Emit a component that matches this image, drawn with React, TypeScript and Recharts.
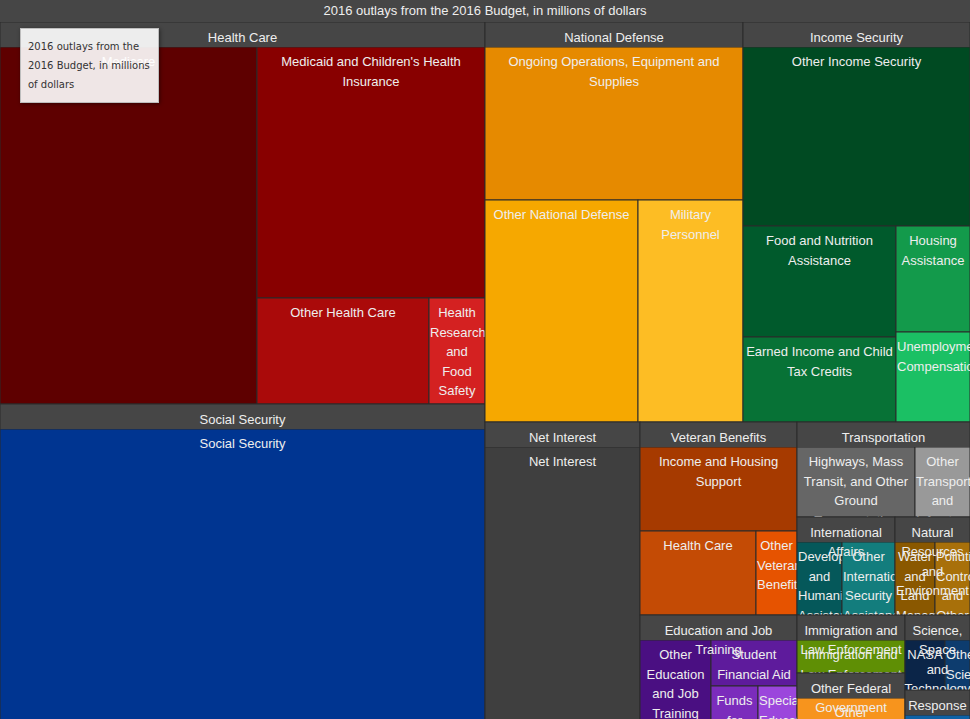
import React from 'react';
import { Treemap } from 'recharts';

const FONT = "'Liberation Sans', Arial, sans-serif";
const HEADER = 25;

const chartTitle = '2016 outlays from the 2016 Budget, in millions of dollars';

const groupNames = [
  'Health Care',
  'Social Security',
  'National Defense',
  'Income Security',
  'Net Interest',
  'Veteran Benefits',
  'Education and Job Training',
  'Transportation',
  'International Affairs',
  'Natural Resources and Environment',
  'Immigration and Law Enforcement',
  'Other Federal Government',
  'Science, Space and Technology',
  'Response',
];

// values in millions of dollars
const healthCareNames = ['Medicare', "Medicaid and Children's Health Insurance", 'Other Health Care', 'Health Research and Food Safety'];
const healthCareValues = [568400, 354500, 113000, 36800];

const socialSecurityNames = ['Social Security'];
const socialSecurityValues = [926700];

const defenseNames = ['Ongoing Operations, Equipment and Supplies', 'Other National Defense', 'Military Personnel'];
const defenseValues = [243800, 209700, 144000];

const incomeNames = ['Other Income Security', 'Food and Nutrition Assistance', 'Earned Income and Child Tax Credits', 'Housing Assistance', 'Unemployment Compensation'];
const incomeValues = [250950, 104880, 80320, 48440, 41130];

const interestNames = ['Net Interest'];
const interestValues = [280000];

const veteranNames = ['Income and Housing Support', 'Health Care', 'Other Veterans Benefits'];
const veteranValues = [87720, 64810, 22910];

const educationNames = ['Other Education and Job Training', 'Student Financial Aid', 'Funds for Disadvantaged Students', 'Special Education'];
const educationValues = [48920, 29000, 16540, 13710];

const transportNames = ['Highways, Mass Transit, and Other Ground Transportation', 'Other Transportation and Infrastructure'];
const transportValues = [64900, 30260];

const internationalNames = ['Development and Humanitarian Assistance', 'Other International Security Assistance'];
const internationalValues = [25540, 30070];

const resourcesNames = ['Water and Land Management', 'Pollution Control and Other'];
const resourcesValues = [22700, 19860];

const immigrationNames = ['Immigration and Law Enforcement'];
const immigrationValues = [36270];

const otherNames = ['Other'];
const otherValues = [38140];

const scienceNames = ['NASA', 'Other Science Programs'];
const scienceValues = [17360, 10870];

const responseNames = ['Disaster Response'];
const responseValues = [16560];

const groupLeaves: [string[], number[]][] = [
  [healthCareNames, healthCareValues],
  [socialSecurityNames, socialSecurityValues],
  [defenseNames, defenseValues],
  [incomeNames, incomeValues],
  [interestNames, interestValues],
  [veteranNames, veteranValues],
  [educationNames, educationValues],
  [transportNames, transportValues],
  [internationalNames, internationalValues],
  [resourcesNames, resourcesValues],
  [immigrationNames, immigrationValues],
  [otherNames, otherValues],
  [scienceNames, scienceValues],
  [responseNames, responseValues],
];

const groupColors: string[][] = [
  ['#5e0000', '#880000', '#aa0a0a', '#d42121'],
  ['#003591'],
  ['#e68a00', '#f6a800', '#fdbd24'],
  ['#004a22', '#005a2c', '#077236', '#139a4b', '#1bc064'],
  ['#3f3f3f'],
  ['#a63a00', '#c44b05', '#e65300'],
  ['#4a0f82', '#5e1b9c', '#7b2cbc', '#9b46dc'],
  ['#666666', '#999999'],
  ['#05585a', '#137d7d'],
  ['#8a5800', '#a8700a'],
  ['#5f8f05'],
  ['#f7941d'],
  ['#0b2548', '#0d3c6e'],
  ['#0e62a6'],
];

const data = groupNames.map((name, gi) => {
  const [names, values] = groupLeaves[gi];
  const items = names.map((n, i) => ({ name: n, value: values[i], color: groupColors[gi][i] }));
  return { name, value: values.reduce((a, b) => a + b, 0), items };
});

let ctx: CanvasRenderingContext2D | null = null;
const measure = (s: string) => {
  if (!ctx) ctx = document.createElement('canvas').getContext('2d');
  if (!ctx) return s.length * 7;
  ctx.font = `13px ${FONT}`;
  return ctx.measureText(s).width;
};

const wrap = (text: string, maxW: number) => {
  const words = text.split(' ');
  const lines: string[] = [];
  let cur = '';
  words.forEach((w) => {
    const test = cur ? `${cur} ${w}` : w;
    if (!cur || measure(test) <= maxW) cur = test;
    else {
      lines.push(cur);
      cur = w;
    }
  });
  if (cur) lines.push(cur);
  return lines;
};

const LeafNode = (props: any) => {
  const { depth, x, y, width, height, name, color } = props;
  if (depth !== 1) return <g />;
  const lines = wrap(name, width - 4);
  return (
    <g>
      <rect x={x} y={y} width={width} height={height} fill={color} stroke="#2b2b2b" strokeWidth={1} />
      <svg x={x} y={y} width={width} height={height} overflow="hidden">
        {lines.map((ln, i) => {
          const fits = measure(ln) <= width - 2;
          return (
            <text
              key={i}
              x={fits ? width / 2 : 1}
              y={14.5 + i * 19.5}
              textAnchor={fits ? 'middle' : 'start'}
              dominantBaseline="central"
              fill="#eeeeee"
              fontSize={13}
              fontFamily={FONT}
            >
              {ln}
            </text>
          );
        })}
      </svg>
    </g>
  );
};

const GroupNode = (props: any) => {
  const { depth, x, y, width, height, name, items } = props;
  if (depth !== 1) return <g />;
  const innerH = Math.max(height - HEADER, 0);
  const lines = wrap(name, width - 6);
  return (
    <g>
      <rect x={x} y={y} width={width} height={height} fill="#464646" stroke="#2b2b2b" strokeWidth={1} />
      <foreignObject x={x} y={y + HEADER} width={width} height={innerH}>
        <Treemap
          width={width}
          height={innerH}
          data={items}
          dataKey="value"
          aspectRatio={1}
          isAnimationActive={false}
          content={LeafNode}
        />
      </foreignObject>
      {lines.map((ln, i) => (
        <text
          key={i}
          x={x + width / 2}
          y={y + 15 + i * 19.5}
          textAnchor="middle"
          dominantBaseline="central"
          fill="#eeeeee"
          fontSize={13}
          fontFamily={FONT}
        >
          {ln}
        </text>
      ))}
    </g>
  );
};

export default function App() {
  return (
    <div style={{ position: 'fixed', left: 0, top: 0, width: 970, height: 719, overflow: 'hidden', background: '#3a3a3a' }}>
      <div
        style={{
          height: 22,
          background: '#464646',
          color: '#eeeeee',
          fontFamily: FONT,
          fontSize: 13,
          lineHeight: '22px',
          textAlign: 'center',
        }}
      >
        {chartTitle}
      </div>
      <div style={{ position: 'absolute', left: 0, top: 22 }}>
        <Treemap
          width={970}
          height={712}
          data={data}
          dataKey="value"
          aspectRatio={1}
          isAnimationActive={false}
          content={GroupNode}
        />
      </div>
      <div
        style={{
          position: 'absolute',
          left: 20,
          top: 28,
          width: 139,
          height: 75,
          boxSizing: 'border-box',
          background: 'rgba(255,255,255,0.9)',
          border: '1px solid #bdbdbd',
          boxShadow: '1px 1px 4px rgba(0,0,0,0.45)',
          padding: '8px 0 0 7px',
          fontFamily: "'DejaVu Sans', sans-serif",
          fontSize: 10,
          lineHeight: '19px',
          color: '#333333',
          whiteSpace: 'nowrap',
        }}
      >
        2016 outlays from the
        <br />
        2016 Budget, in millions
        <br />
        of dollars
      </div>
    </div>
  );
}
